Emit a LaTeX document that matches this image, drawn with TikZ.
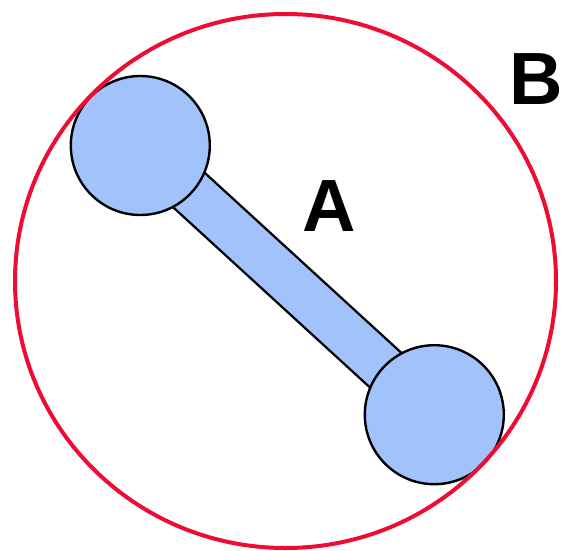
\documentclass[tikz,border=0pt]{standalone}
\usepackage{fontspec}
\setmainfont{Liberation Sans}
\usetikzlibrary{backgrounds}

\definecolor{ballblue}{RGB}{162,194,252}
\definecolor{ringred}{RGB}{238,12,52}

\tikzset{
    ball/.style={circle, draw=black, line width=2.4pt, fill=ballblue,
        minimum size=139pt, inner sep=0pt},
    rod/.style={line width=49pt, draw=black},
    rodfill/.style={line width=44.2pt, draw=ballblue},
    ring/.style={draw=ringred, line width=4pt},
    letter/.style={font=\fontsize{74}{74}\selectfont\bfseries, inner sep=0pt}
}

\begin{document}
\begin{tikzpicture}[x=1pt, y=-1pt]

\useasboundingbox (0,0) rectangle (562,551);

% Hantel
\node[ball] (BallL) at (140.3,145.5) {};
\node[ball] (BallR) at (434.3,414.7) {};

\begin{pgfonlayer}{background}
    \draw[rod] (BallL.center) -- (BallR.center);
    \draw[rodfill] (BallL.center) -- (BallR.center);
\end{pgfonlayer}

% Rand
\coordinate (Center) at (285.5,281);
\draw[ring] (Center) ellipse (270.5 and 267);

% Beschriftung
\node[letter] (LabelA) at (329,206.5) {A};
\node[letter] (LabelB) at (536.5,79) {B};

\end{tikzpicture}
\end{document}
